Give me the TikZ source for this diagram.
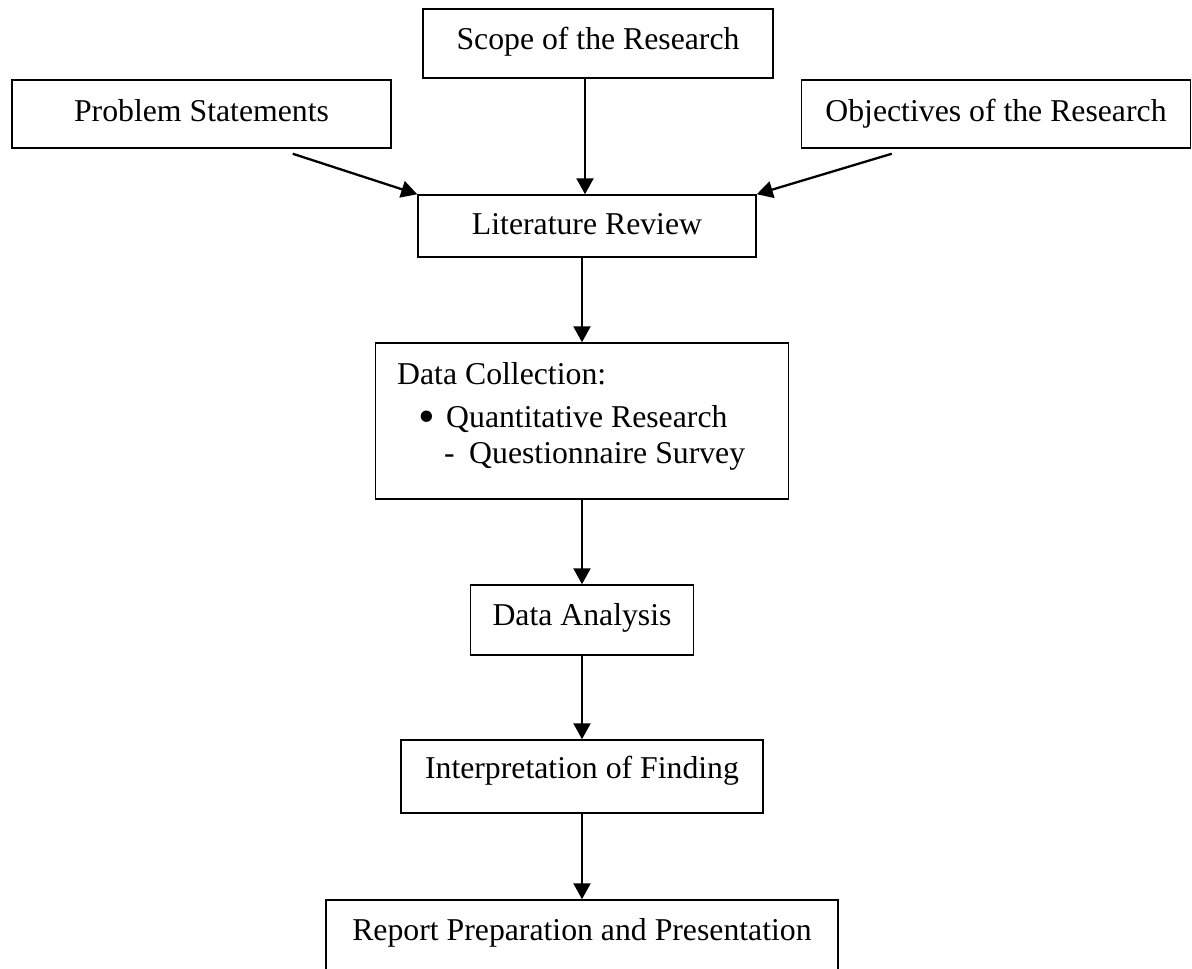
\documentclass[tikz,border=0pt]{standalone}
\usepackage{fontspec}
\setmainfont{Liberation Serif}
\usetikzlibrary{arrows.meta,calc}
\begin{document}
\begin{tikzpicture}[x=1pt,y=-1pt,
  box/.style={draw=black,line width=1.5pt,inner sep=0pt,font=\fontsize{31.75pt}{38pt}\selectfont,text height=22pt},
  arr/.style={line width=2.3pt,-{Triangle[length=16pt,width=17pt]}},
  txt/.style={inner sep=0pt,anchor=base west,font=\fontsize{31.75pt}{38pt}\selectfont}]
\useasboundingbox (0,0) rectangle (1192,969);
\clip (0,0) rectangle (1192,969);
\fill[white] (0,0) rectangle (1192,969);
% top row
\node[box,minimum width=350pt,minimum height=69pt,text depth=11pt] (scope) at (598,43.5) {Scope of the Research};
\node[box,minimum width=379pt,minimum height=68pt,text depth=8pt] (prob) at (201.5,114) {Problem Statements};
\node[box,minimum width=389pt,minimum height=68pt,text depth=8pt] (obj) at (996,114) {Objectives of the Research};
% literature
\node[box,minimum width=338pt,minimum height=62pt,text depth=6pt] (lit) at (587,226) {Literature Review};
% data collection
\node[box,minimum width=413pt,minimum height=156pt] (dc) at (582,421) {};
\node[txt] (dc1) at (397,384) {Data Collection:};
\node[inner sep=0pt,anchor=base,font=\fontsize{31.75pt}{38pt}\selectfont] (dcb) at (427,427) {\raisebox{-5pt}{\scalebox{1.5}{•}}};
\node[txt] (dc2) at (446,427) {Quantitative Research};
\node[txt] (dcd) at (444,463) {-};
\node[txt] (dc3) at (469,463) {Questionnaire Survey};
% lower chain
\node[box,minimum width=223pt,minimum height=70pt,text depth=12pt] (da) at (582,620) {Data Analysis};
\node[box,minimum width=362pt,minimum height=73pt,text depth=19pt] (interp) at (582,776.5) {Interpretation of Finding};
\node[box,minimum width=512pt,minimum height=100pt,text depth=42pt] (rep) at (582,950) {Report Preparation and Presentation};
% connectors
\draw[arr] ([xshift=-13pt]scope.south) -- ([xshift=-13pt]scope.south |- lit.north);
\draw[arr] ([xshift=-99pt,yshift=-5pt]prob.south east) -- (lit.north west);
\draw[arr] ([xshift=91pt,yshift=-5pt]obj.south west) -- (lit.north east);
\draw[arr] (lit.south -| dc.north) -- (dc.north);
\draw[arr] (dc.south) -- (da.north);
\draw[arr] (da.south) -- (interp.north);
\draw[arr] (interp.south) -- (rep.north);
\end{tikzpicture}
\end{document}
